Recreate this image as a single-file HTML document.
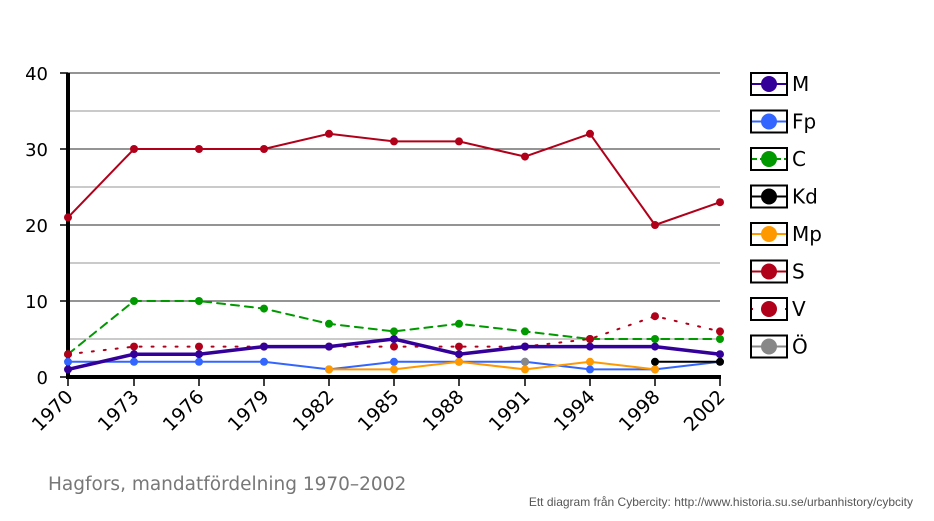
<!DOCTYPE html>
<html><head><meta charset="utf-8"><style>body{margin:0;background:#fff}svg{display:block}text{font-family:"DejaVu Sans","Liberation Sans",sans-serif}</style></head><body>
<svg width="934" height="521" xmlns="http://www.w3.org/2000/svg">
<g stroke-width="1.2">
<line x1="68" x2="720" y1="73" y2="73" stroke="#555"/>
<line x1="68" x2="720" y1="111" y2="111" stroke="#aaa"/>
<line x1="68" x2="720" y1="149" y2="149" stroke="#555"/>
<line x1="68" x2="720" y1="187" y2="187" stroke="#aaa"/>
<line x1="68" x2="720" y1="225" y2="225" stroke="#555"/>
<line x1="68" x2="720" y1="263" y2="263" stroke="#aaa"/>
<line x1="68" x2="720" y1="301" y2="301" stroke="#555"/>
<line x1="68" x2="720" y1="339" y2="339" stroke="#aaa"/>
</g>
<g stroke="#000" stroke-width="1.5">
<line x1="60" x2="68" y1="73" y2="73"/><line x1="60" x2="68" y1="149" y2="149"/><line x1="60" x2="68" y1="225" y2="225"/><line x1="60" x2="68" y1="301" y2="301"/><line x1="60" x2="68" y1="377" y2="377"/>
</g>
<g font-size="18" text-anchor="end" fill="#000">
<text x="48" y="80">40</text><text x="48" y="156">30</text><text x="48" y="232">20</text><text x="48" y="308">10</text><text x="48" y="384">0</text>
</g>
<line x1="68" y1="73" x2="68" y2="379" stroke="#000" stroke-width="4"/>
<line x1="66" y1="377" x2="721" y2="377" stroke="#000" stroke-width="4"/>
<g id="ticks" stroke="#000" stroke-width="1.5"></g>
<g id="xl" font-size="19" fill="#000"></g>
<g id="series"></g>
<text x="48" y="490" font-size="18.5" fill="#777">Hagfors, mandatfördelning 1970–2002</text>
<text x="913" y="506" font-size="12" fill="#555" text-anchor="end" style="font-family:'Liberation Sans',sans-serif">Ett diagram från Cybercity: http://www.historia.su.se/urbanhistory/cybcity</text>
<g id="legend"></g>
</svg>
<script>
const X=[68,134,199,264,329,394,459,525,590,655,720],yrs=[1970,1973,1976,1979,1982,1985,1988,1991,1994,1998,2002];
const ns="http://www.w3.org/2000/svg";
function el(p,t,a,txt){const e=document.createElementNS(ns,t);for(const k in a)e.setAttribute(k,a[k]);if(txt)e.textContent=txt;document.getElementById(p).appendChild(e);return e;}
X.forEach((x,i)=>{el("ticks","line",{x1:x,x2:x,y1:377,y2:386});const ax=x+6,ay=398;el("xl","text",{x:ax,y:ay,"text-anchor":"end",transform:`rotate(-45 ${ax} ${ay})`},String(yrs[i]));});
const Y=v=>377-7.6*v;
const S=[
["S","#b0001a",[21,30,30,30,32,31,31,29,32,20,23],2,""],
["C","#009900",[3,10,10,9,7,6,7,6,5,5,5],2,"8,6"],
["Fp","#3366ff",[2,2,2,2,1,2,2,2,1,1,2],2,""],
["Mp","#ff9900",[null,null,null,null,1,1,2,1,2,1,null],2,""],
["Kd","#000",[null,null,null,null,null,null,null,null,null,2,2],2,""],
["V","#b0001a",[3,4,4,4,4,4,4,4,5,8,6],2,"2,10"],
["M","#330099",[1,3,3,4,4,5,3,4,4,4,3],3.5,""],
["Ö","#888",[null,null,null,null,null,null,null,2,null,null,null],2,""]];
S.forEach(([n,c,d,w,da])=>{let pts=[];d.forEach((v,i)=>{if(v!=null)pts.push(X[i]+","+Y(v))});
if(pts.length>1)el("series","polyline",{points:pts.join(" "),fill:"none",stroke:c,"stroke-width":w,"stroke-dasharray":da,"stroke-linecap":"round"});
d.forEach((v,i)=>{if(v!=null)el("series","circle",{cx:X[i],cy:Y(v),r:4,fill:c});});});
const L=[["M","#330099",""],["Fp","#3366ff",""],["C","#009900","5,3"],["Kd","#000",""],["Mp","#ff9900",""],["S","#b0001a",""],["V","#b0001a","1,10"],["Ö","#888",""]];
L.forEach(([n,c,da],i)=>{const cy=84+i*37.5;
el("legend","rect",{x:751,y:cy-11,width:36,height:22,fill:"#fff",stroke:"#000","stroke-width":2});
el("legend","line",{x1:752,x2:786,y1:cy,y2:cy,stroke:c,"stroke-width":2,"stroke-dasharray":da});
el("legend","circle",{cx:769,cy:cy,r:8,fill:c});
el("legend","text",{x:792,y:cy+7,"font-size":20,fill:"#000"},n);});
</script>
</body></html>
